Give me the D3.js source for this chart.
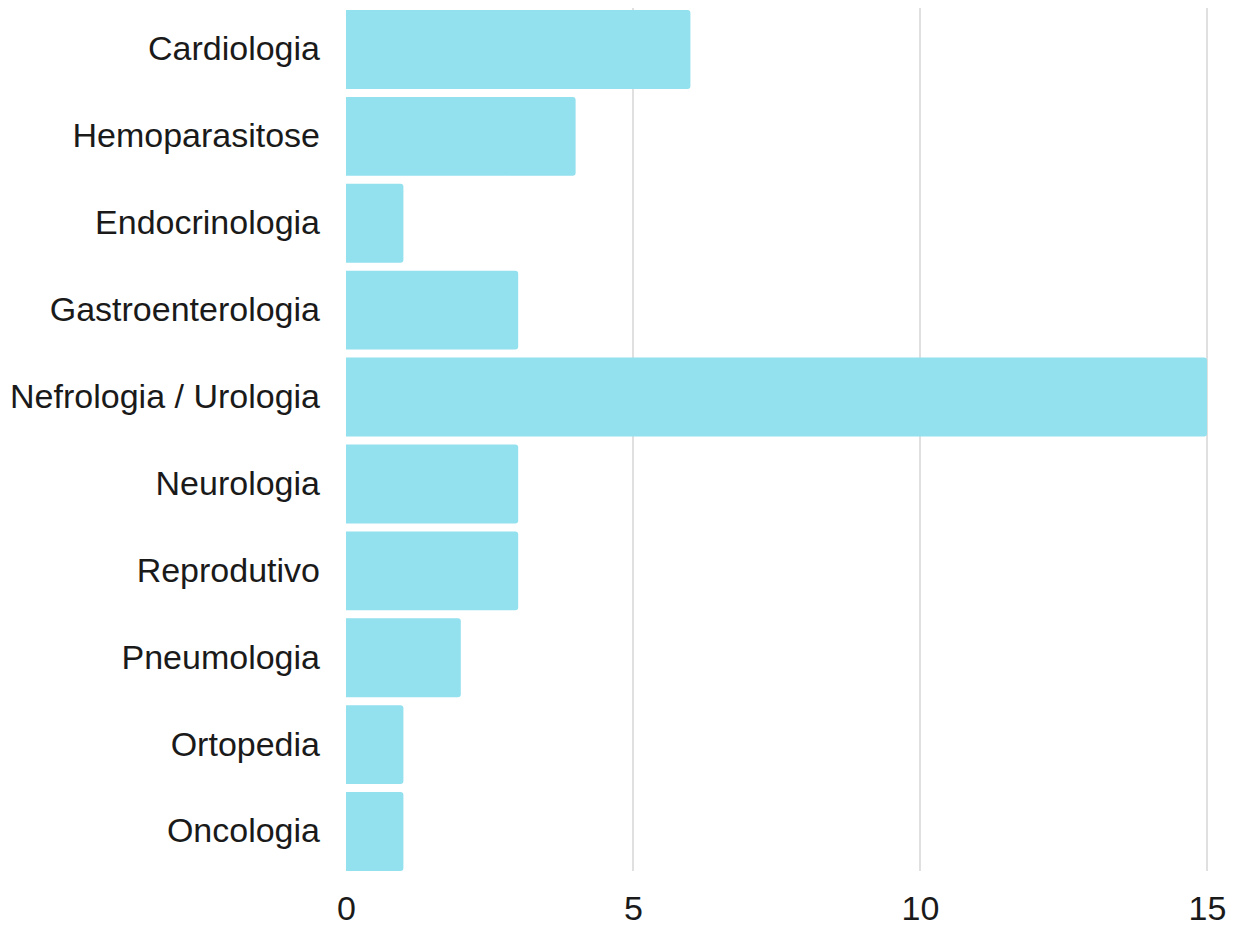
<!DOCTYPE html>
<html>
<head>
<meta charset="utf-8">
<script src="https://cdn.jsdelivr.net/npm/d3@7"></script>
<style>
  html, body { margin: 0; padding: 0; background: #ffffff; }
  svg { display: block; }
</style>
</head>
<body>
<svg id="chart" width="1243" height="926"></svg>
<script>
// Cases by specialty
const categories = [
  "Cardiologia", "Hemoparasitose", "Endocrinologia", "Gastroenterologia",
  "Nefrologia / Urologia", "Neurologia", "Reprodutivo", "Pneumologia",
  "Ortopedia", "Oncologia"
];
const values = [6, 4, 1, 3, 15, 3, 3, 2, 1, 1];
const xTicks = [0, 5, 10, 15];

const svg = d3.select("#chart");
const margin = { top: 10, left: 346, right: 36, bottom: 55 };
const W = 1243, H = 926;
const fontSize = 34;

const x = d3.scaleLinear().domain([0, 15]).range([margin.left, W - margin.right]);
const y = d3.scaleBand().domain(categories)
  .range([margin.top, 871]).paddingInner(0.092).paddingOuter(0);

// vertical gridlines
svg.append("g").selectAll("line")
  .data(xTicks.filter(d => d > 0))
  .join("line")
  .attr("x1", d => x(d)).attr("x2", d => x(d))
  .attr("y1", 8).attr("y2", 871)
  .attr("stroke", "#cccccc").attr("stroke-width", 1.2);

// bars: square on the baseline, rounded at the value end
const r = 3;
function barPath(d, i) {
  const x0 = x(0), x1 = x(d), y0 = y(categories[i]), h = y.bandwidth();
  return `M${x0},${y0}H${x1 - r}Q${x1},${y0} ${x1},${y0 + r}` +
         `V${y0 + h - r}Q${x1},${y0 + h} ${x1 - r},${y0 + h}H${x0}Z`;
}
svg.append("g").selectAll("path")
  .data(values)
  .join("path")
  .attr("d", barPath)
  .attr("fill", "#93e0ee");

// category labels
const yAxis = d3.axisLeft(y).tickSize(0).tickPadding(26);
const gy = svg.append("g").attr("transform", `translate(${margin.left},0)`).call(yAxis);
gy.select(".domain").remove();
gy.selectAll("text")
  .attr("font-family", "'Liberation Sans', Arial, sans-serif")
  .attr("font-size", fontSize).attr("fill", "#1a1a1a");

// value axis
const xAxis = d3.axisBottom(x).tickValues(xTicks).tickSize(0).tickPadding(17);
const gx = svg.append("g").attr("transform", `translate(0,879)`).call(xAxis);
gx.select(".domain").remove();
gx.selectAll("text")
  .attr("font-family", "'Liberation Sans', Arial, sans-serif")
  .attr("font-size", fontSize).attr("fill", "#1a1a1a");
</script>
</body>
</html>
